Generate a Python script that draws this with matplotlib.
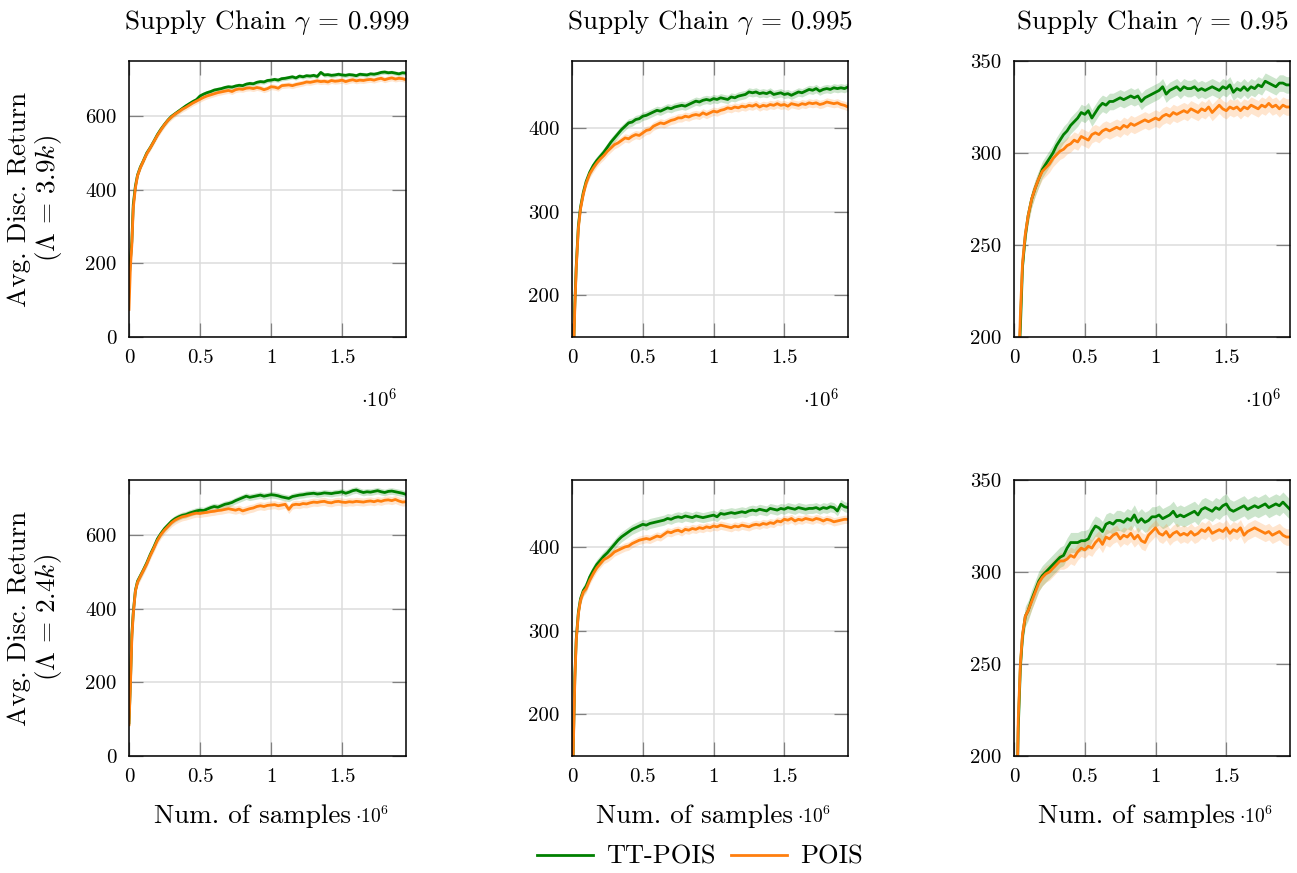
import numpy as np
import matplotlib
matplotlib.use("Agg")
import matplotlib.pyplot as plt

# ---------------- data (x in units of 1e6 samples) ----------------
x_samples = [0, 0.01, 0.02, 0.03, 0.045, 0.06, 0.08, 0.1, 0.125, 0.15, 0.175,
             0.2, 0.225, 0.25, 0.275, 0.3, 0.325, 0.35, 0.375, 0.4, 0.425,
             0.45, 0.475, 0.5, 0.525, 0.55, 0.575, 0.6, 0.625, 0.65, 0.675,
             0.7, 0.725, 0.75, 0.775, 0.8, 0.825, 0.85, 0.875, 0.9, 0.925,
             0.95, 0.975, 1.0, 1.025, 1.05, 1.075, 1.1, 1.125, 1.15, 1.175,
             1.2, 1.225, 1.25, 1.275, 1.3, 1.325, 1.35, 1.375, 1.4, 1.425,
             1.45, 1.475, 1.5, 1.525, 1.55, 1.575, 1.6, 1.625, 1.65, 1.675,
             1.7, 1.725, 1.75, 1.775, 1.8, 1.825, 1.85, 1.875, 1.9, 1.925,
             1.95]

# Row 1: Lambda = 3.9k
tt_999_a = [150, 210, 260, 360, 410, 440, 462, 478, 500, 515, 532,
            550, 565, 578, 590, 600, 607, 614, 621, 628, 634,
            640, 645, 655, 660, 664, 667, 671, 673, 675, 678,
            680, 679, 682, 684, 683, 687, 689, 688, 692, 694,
            693, 697, 698, 700, 698, 702, 703, 705, 707, 704,
            709, 707, 710, 709, 711, 708, 719, 712, 713, 711,
            712, 714, 712, 711, 713, 712, 710, 714, 713, 712,
            715, 714, 716, 719, 720, 718, 719, 717, 715, 718,
            717]
pois_999_a = [75, 190, 250, 350, 405, 438, 460, 477, 498, 514, 531,
              548, 563, 577, 589, 598, 606, 612, 619, 624, 630,
              636, 641, 646, 651, 655, 658, 661, 664, 666, 668,
              670, 667, 672, 674, 673, 676, 677, 675, 678, 676,
              672, 675, 680, 679, 676, 683, 684, 685, 683, 686,
              688, 690, 693, 692, 694, 696, 694, 695, 693, 697,
              695, 696, 698, 694, 697, 699, 696, 698, 697, 699,
              700, 698, 701, 703, 699, 702, 704, 701, 703, 702,
              699]
tt_995_a = [70, 130, 190, 235, 283, 305, 323, 336, 347, 355, 361,
            366, 371, 377, 383, 388, 393, 398, 402, 406, 407,
            410, 411, 414, 415, 417, 419, 421, 420, 422, 424,
            423, 425, 426, 427, 426, 428, 430, 432, 431, 433,
            434, 433, 435, 434, 436, 435, 434, 437, 436, 438,
            439, 440, 443, 442, 443, 441, 442, 441, 443, 440,
            441, 442, 440, 441, 439, 441, 443, 442, 444, 446,
            445, 447, 444, 446, 447, 446, 448, 447, 448, 447,
            449]
pois_995_a = [60, 125, 185, 232, 280, 303, 321, 334, 345, 352, 358,
              363, 367, 372, 376, 380, 382, 385, 388, 387, 390,
              392, 391, 394, 397, 398, 402, 404, 406, 405, 407,
              409, 410, 412, 412, 414, 413, 415, 416, 415, 418,
              416, 418, 420, 419, 421, 422, 424, 423, 425, 424,
              426, 425, 427, 426, 428, 425, 427, 426, 428, 427,
              429, 427, 428, 426, 429, 428, 427, 429, 428, 430,
              429, 430, 428, 429, 431, 430, 429, 430, 428, 427,
              425]
tt_95_a = [120, 140, 160, 178, 205, 238, 255, 266, 275, 281, 286,
           291, 294, 297, 300, 304, 307, 310, 312, 315, 317,
           319, 322, 321, 323, 319, 322, 325, 327, 326, 328,
           328, 329, 330, 329, 330, 331, 330, 331, 328, 330,
           331, 332, 333, 334, 336, 332, 334, 335, 336, 334,
           336, 335, 335, 336, 334, 335, 334, 335, 336, 335,
           334, 336, 335, 337, 333, 335, 334, 336, 334, 336,
           335, 337, 336, 339, 338, 337, 336, 338, 338, 337,
           337]
pois_95_a = [110, 135, 155, 175, 212, 240, 256, 266, 275, 281, 286,
             290, 292, 294, 297, 299, 301, 302, 304, 305, 307,
             306, 309, 308, 307, 310, 311, 310, 312, 313, 312,
             313, 314, 313, 315, 314, 316, 315, 316, 317, 318,
             317, 318, 319, 318, 320, 321, 320, 322, 321, 322,
             323, 322, 324, 323, 322, 324, 323, 325, 322, 324,
             326, 324, 323, 325, 324, 325, 323, 325, 324, 326,
             325, 324, 326, 325, 327, 325, 326, 324, 326, 325,
             325]

# Row 2: Lambda = 2.4k
tt_999_b = [90, 200, 330, 390, 450, 475, 490, 505, 525, 548, 568,
            590, 605, 618, 628, 638, 645, 650, 654, 656, 660,
            663, 666, 668, 667, 671, 675, 678, 676, 680, 684,
            686, 689, 694, 698, 702, 706, 703, 705, 707, 709,
            706, 708, 710, 709, 707, 704, 702, 700, 705, 707,
            709, 710, 712, 713, 714, 712, 713, 715, 714, 713,
            715, 716, 718, 714, 717, 721, 723, 719, 716, 718,
            717, 719, 721, 718, 716, 719, 720, 718, 716, 714,
            711]
pois_999_b = [85, 190, 320, 385, 448, 472, 488, 503, 522, 545, 565,
              586, 602, 614, 624, 634, 641, 646, 650, 652, 655,
              658, 660, 659, 661, 662, 664, 665, 667, 668, 670,
              672, 670, 668, 671, 666, 669, 672, 674, 678, 680,
              678, 681, 682, 683, 680, 682, 684, 670, 682, 684,
              683, 686, 685, 688, 690, 689, 691, 692, 689, 688,
              691, 692, 690, 689, 691, 690, 692, 691, 690, 692,
              693, 691, 694, 692, 695, 696, 694, 697, 693, 690,
              691]
tt_995_b = [60, 170, 245, 290, 322, 338, 348, 353, 364, 372, 379,
            384, 389, 393, 398, 403, 408, 412, 415, 418, 421,
            423, 425, 427, 426, 428, 429, 430, 431, 432, 434,
            433, 435, 436, 435, 437, 436, 435, 437, 436, 435,
            436, 437, 438, 436, 440, 439, 440, 441, 440, 441,
            442, 441, 443, 444, 443, 445, 444, 443, 446, 445,
            444, 446, 445, 447, 446, 445, 447, 446, 445, 446,
            446, 447, 445, 447, 446, 448, 447, 443, 451, 448,
            447]
pois_995_b = [55, 165, 240, 288, 320, 336, 346, 350, 360, 368, 375,
              380, 385, 387, 390, 394, 396, 398, 400, 401, 404,
              406, 408, 409, 410, 409, 411, 413, 412, 415, 418,
              417, 419, 420, 418, 421, 420, 422, 421, 423, 422,
              424, 423, 425, 424, 426, 425, 424, 423, 425, 424,
              426, 425, 424, 426, 427, 426, 428, 427, 429, 428,
              431, 430, 433, 432, 434, 431, 433, 432, 434, 433,
              432, 434, 433, 431, 433, 432, 430, 431, 432, 433,
              433]
tt_95_b = [110, 140, 175, 215, 248, 265, 276, 279, 285, 290, 295,
           298, 300, 302, 304, 306, 308, 309, 313, 316, 316,
           316, 317, 317, 318, 322, 325, 324, 322, 326, 327,
           326, 328, 328, 327, 329, 328, 331, 327, 329, 327,
           328, 330, 330, 331, 329, 330, 331, 333, 330, 331,
           330, 331, 332, 333, 331, 334, 335, 334, 333, 335,
           334, 336, 337, 334, 333, 334, 335, 336, 334, 335,
           336, 335, 336, 337, 335, 336, 337, 336, 338, 336,
           334]
pois_95_b = [100, 135, 170, 220, 250, 266, 276, 279, 284, 289, 294,
             297, 299, 300, 302, 304, 306, 306, 307, 309, 308,
             311, 313, 312, 314, 313, 316, 318, 315, 319, 318,
             320, 321, 318, 320, 319, 321, 318, 320, 317, 316,
             320, 322, 324, 321, 320, 322, 319, 321, 322, 320,
             321, 320, 322, 320, 321, 323, 322, 324, 321, 322,
             323, 322, 324, 321, 323, 322, 324, 320, 322, 323,
             324, 323, 322, 321, 322, 320, 321, 322, 320, 319,
             319]

# half-width of the shaded confidence band for each series
band_tt_a = [6, 5, 4.5]
band_pois_a = [8, 5, 4.5]
band_tt_b = [9, 6, 5.5]
band_pois_b = [11, 5, 4.5]

gamma_labels = ["0.999", "0.995", "0.95"]
lambda_labels = ["3.9", "2.4"]
y_limits = [(0, 750), (150, 480), (200, 350)]
y_ticks = [[0, 200, 400, 600], [200, 300, 400], [200, 250, 300, 350]]
x_ticks = [0, 0.5, 1, 1.5]
x_tick_labels = ["0", "0.5", "1", "1.5"]
series_names = ["TT-POIS", "POIS"]

# ---------------- style ----------------
plt.rcParams.update({
    "font.family": "cmr10",
    "mathtext.fontset": "cm",
    "axes.unicode_minus": False,
    "axes.formatter.use_mathtext": True,
})
GREEN = "#008000"
ORANGE = "#ff7f0e"

W, H = 1297, 873
fig = plt.figure(figsize=(W / 100, H / 100), dpi=100)

lefts = [129, 572, 1014]
widths = [277, 276, 276]
tops = [61, 480]
ax_h = 276

rows = [
    (tt_999_a, pois_999_a, tt_995_a, pois_995_a, tt_95_a, pois_95_a, band_tt_a, band_pois_a),
    (tt_999_b, pois_999_b, tt_995_b, pois_995_b, tt_95_b, pois_95_b, band_tt_b, band_pois_b),
]

x = np.array(x_samples)
handles = None
for r in range(2):
    data = rows[r]
    for c in range(3):
        ax = fig.add_axes([lefts[c] / W, 1 - (tops[r] + ax_h) / H, widths[c] / W, ax_h / H])
        tt = np.array(data[2 * c], dtype=float)
        po = np.array(data[2 * c + 1], dtype=float)
        btt = data[6][c]
        bpo = data[7][c]
        ax.fill_between(x, tt - btt, tt + btt, color=GREEN, alpha=0.2, lw=0)
        ax.fill_between(x, po - bpo, po + bpo, color=ORANGE, alpha=0.2, lw=0)
        l1, = ax.plot(x, tt, color=GREEN, lw=2.0)
        l2, = ax.plot(x, po, color=ORANGE, lw=2.0)
        if handles is None:
            handles = [l1, l2]
        ax.set_xlim(0, 1.95)
        ax.set_ylim(*y_limits[c])
        ax.set_xticks(x_ticks)
        ax.set_xticklabels(x_tick_labels)
        ax.set_yticks(y_ticks[c])
        ax.set_yticklabels([str(v) for v in y_ticks[c]])
        ax.grid(True, color="#dcdcdc", lw=1.1)
        ax.set_axisbelow(True)
        ax.tick_params(direction="in", length=10, width=0.9, color="#808080",
                       top=True, right=True, labelsize=15, pad=9)
        for s in ax.spines.values():
            s.set_linewidth(1.1)
            s.set_color("black")
        if r == 0:
            ax.set_title(r"Supply Chain $\gamma$ = " + gamma_labels[c],
                         fontsize=19.5, pad=23)
            ax.text(0.967, -0.228, r"$\cdot 10^6$", transform=ax.transAxes,
                    ha="right", va="center", fontsize=15)
        else:
            ax.text(0.80, -0.243, "Num. of samples", transform=ax.transAxes,
                    ha="right", va="baseline", fontsize=19.5)
            ax.text(0.815, -0.243, r"$\cdot 10^6$", transform=ax.transAxes,
                    ha="left", va="baseline", fontsize=14)
        if c == 0:
            fig.text(36 / W, 1 - (tops[r] + ax_h / 2) / H,
                     "Avg. Disc. Return\n($\\Lambda$ = " + lambda_labels[r] + "$k$)",
                     rotation=90, ha="center", va="center", multialignment="center",
                     fontsize=19.5, linespacing=1.1)

fig.legend(handles, series_names, loc="center", bbox_to_anchor=(700 / W, 1 - 857 / H),
           ncol=2, frameon=False, fontsize=19, handlelength=2.1, handletextpad=0.5,
           columnspacing=0.6)

fig.savefig("out.png", dpi=100)
